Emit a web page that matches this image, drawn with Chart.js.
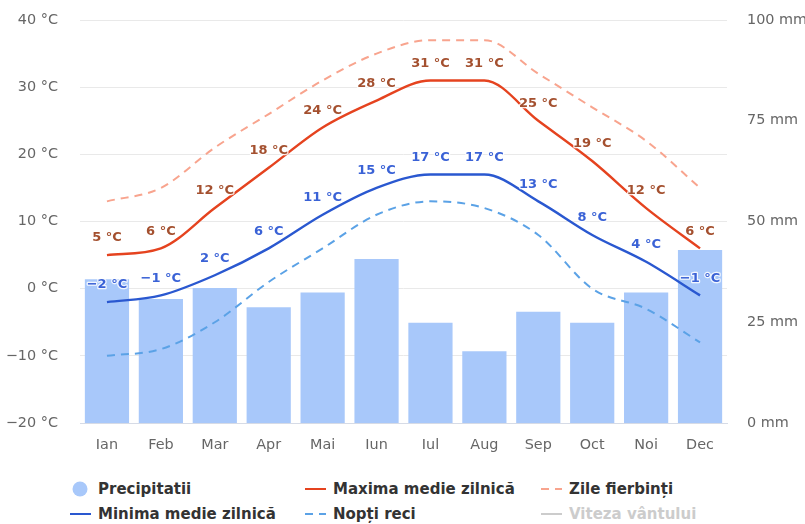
<!DOCTYPE html>
<html>
<head>
<meta charset="utf-8">
<script src="https://cdn.jsdelivr.net/npm/chart.js@4"></script>
<style>
  html, body { margin: 0; padding: 0; background: #fff; }
  #wrap { position: relative; width: 805px; height: 524px; font-family: "DejaVu Sans", sans-serif; }
  #chartBox { position: absolute; left: 0; top: 0; width: 805px; height: 470px; }
  #legend { position: absolute; left: 70px; top: 476px; display: grid;
            grid-template-columns: 235px 236px 236px; grid-auto-rows: 25px; }
  .item { display: flex; align-items: center; font-weight: bold; font-size: 15px;
          color: #333; white-space: nowrap; }
  .item.off { color: #ccc; }
  .item svg { margin-right: 7px; flex: none; }
</style>
</head>
<body>
<div id="wrap">
  <div id="chartBox"><canvas id="c"></canvas></div>
  <div id="legend"></div>
</div>
<script>
// Monthly climate data
const months = ['Ian', 'Feb', 'Mar', 'Apr', 'Mai', 'Iun', 'Iul', 'Aug', 'Sep', 'Oct', 'Noi', 'Dec'];
const precipitation = [35.7, 30.8, 33.5, 28.7, 32.4, 40.7, 24.9, 17.8, 27.6, 24.9, 32.4, 42.9]; // mm
const maxDaily = [5, 6, 12, 18, 24, 28, 31, 31, 25, 19, 12, 6];      // °C
const minDaily = [-2, -1, 2, 6, 11, 15, 17, 17, 13, 8, 4, -1];       // °C
const hotDays = [13, 15, 21, 26, 31, 35, 37, 37, 32, 27, 22, 15];    // °C
const coldNights = [-10, -9, -5, 1, 6, 11, 13, 12, 8, 0, -3, -8];    // °C
const windSpeed = [];

const tempTicks = { min: -20, max: 40, step: 10 };
const rainTicks = { min: 0, max: 100, step: 25 };

const fmtTemp = v => (v < 0 ? '\u2212' + Math.abs(v) : v) + ' \u00B0C';

// Value labels drawn above the points of the daily max/min lines
const valueLabels = {
  id: 'valueLabels',
  afterDatasetsDraw(chart) {
    const ctx = chart.ctx;
    chart.data.datasets.forEach((ds, i) => {
      if (!ds.labelColor) return;
      const meta = chart.getDatasetMeta(i);
      if (meta.hidden) return;
      ctx.save();
      ctx.font = 'bold 13px "DejaVu Sans", sans-serif';
      ctx.textAlign = 'center';
      ctx.textBaseline = 'middle';
      ctx.lineJoin = 'round';
      meta.data.forEach((pt, j) => {
        const txt = fmtTemp(ds.data[j]);
        const y = pt.y - 17;
        ctx.strokeStyle = 'rgba(255,255,255,0.85)';
        ctx.lineWidth = 2.5;
        ctx.strokeText(txt, pt.x, y);
        ctx.fillStyle = ds.labelColor;
        ctx.fillText(txt, pt.x, y);
      });
      ctx.restore();
    });
  }
};

const tickFont = { family: '"DejaVu Sans", sans-serif', size: 14.4 };

// Keep the vertical axes from reserving extra room above/below the plot
const trimPadding = s => { s.paddingTop = 8; s.paddingBottom = 8; };

const chart = new Chart(document.getElementById('c'), {
  data: {
    labels: months,
    datasets: [
      { type: 'bar', label: 'Precipitatii', data: precipitation, yAxisID: 'yRain',
        backgroundColor: '#a8c8fa', barPercentage: 0.82, categoryPercentage: 1.0, order: 10,
        legendMarker: 'circle' },
      { type: 'line', label: 'Maxima medie zilnică', data: maxDaily, yAxisID: 'yTemp',
        borderColor: '#e5431f', borderWidth: 2.4, pointRadius: 0, cubicInterpolationMode: 'monotone',
        labelColor: '#a4502f', order: 2 },
      { type: 'line', label: 'Zile fierbinți', data: hotDays, yAxisID: 'yTemp',
        borderColor: '#f8a48e', borderWidth: 2, borderDash: [8, 6], pointRadius: 0,
        cubicInterpolationMode: 'monotone', order: 3 },
      { type: 'line', label: 'Minima medie zilnică', data: minDaily, yAxisID: 'yTemp',
        borderColor: '#2a58d0', borderWidth: 2.4, pointRadius: 0, cubicInterpolationMode: 'monotone',
        labelColor: '#3a62d6', order: 2 },
      { type: 'line', label: 'Nopți reci', data: coldNights, yAxisID: 'yTemp',
        borderColor: '#5ba2e6', borderWidth: 2, borderDash: [8, 6], pointRadius: 0,
        cubicInterpolationMode: 'monotone', order: 3 },
      { type: 'line', label: 'Viteza vântului', data: windSpeed, yAxisID: 'yTemp',
        borderColor: '#888', borderWidth: 2, pointRadius: 0, hidden: true, order: 4 }
    ]
  },
  options: {
    responsive: true,
    maintainAspectRatio: false,
    animation: false,
    layout: { padding: { top: 20, left: 0, right: 0, bottom: 0 } },
    plugins: { legend: { display: false }, tooltip: { enabled: false } },
    scales: {
      x: {
        grid: { display: false },
        border: { display: true, color: '#d6dbe6' },
        ticks: { color: '#666', font: tickFont, padding: 6, maxRotation: 0 },
        afterFit(s) { s.height = 47; }
      },
      yTemp: {
        position: 'left',
        min: tempTicks.min, max: tempTicks.max,
        grid: { color: '#e9e9e9', drawTicks: false },
        border: { display: false },
        ticks: { stepSize: tempTicks.step, color: '#666', font: tickFont, padding: 22,
                 callback: v => fmtTemp(v) },
        afterFit(s) { s.width = 80; trimPadding(s); }
      },
      yRain: {
        position: 'right',
        min: rainTicks.min, max: rainTicks.max,
        grid: { display: false, drawTicks: false },
        border: { display: false },
        ticks: { stepSize: rainTicks.step, color: '#666', font: tickFont, padding: 20,
                 callback: v => v + ' mm' },
        afterFit(s) { s.width = 78; trimPadding(s); }
      }
    }
  },
  plugins: [valueLabels]
});

// Legend built from the chart's datasets, three per row
const legendOrder = [0, 1, 2, 3, 4, 5];
const legendEl = document.getElementById('legend');
legendOrder.forEach(i => {
  const ds = chart.data.datasets[i];
  const item = document.createElement('div');
  item.className = 'item' + (ds.hidden ? ' off' : '');
  let svg;
  if (ds.legendMarker === 'circle') {
    svg = '<svg width="21" height="16"><circle cx="10" cy="8" r="7.5" fill="' + ds.backgroundColor + '"/></svg>';
  } else {
    const col = ds.hidden ? '#ccc' : ds.borderColor;
    const dash = ds.borderDash ? ' stroke-dasharray="' + ds.borderDash.join(',') + '"' : '';
    svg = '<svg width="21" height="16"><line x1="0" y1="8" x2="21" y2="8" stroke="' + col +
          '" stroke-width="2"' + dash + '/></svg>';
  }
  item.innerHTML = svg + '<span>' + ds.label + '</span>';
  legendEl.appendChild(item);
});
</script>
</body>
</html>
